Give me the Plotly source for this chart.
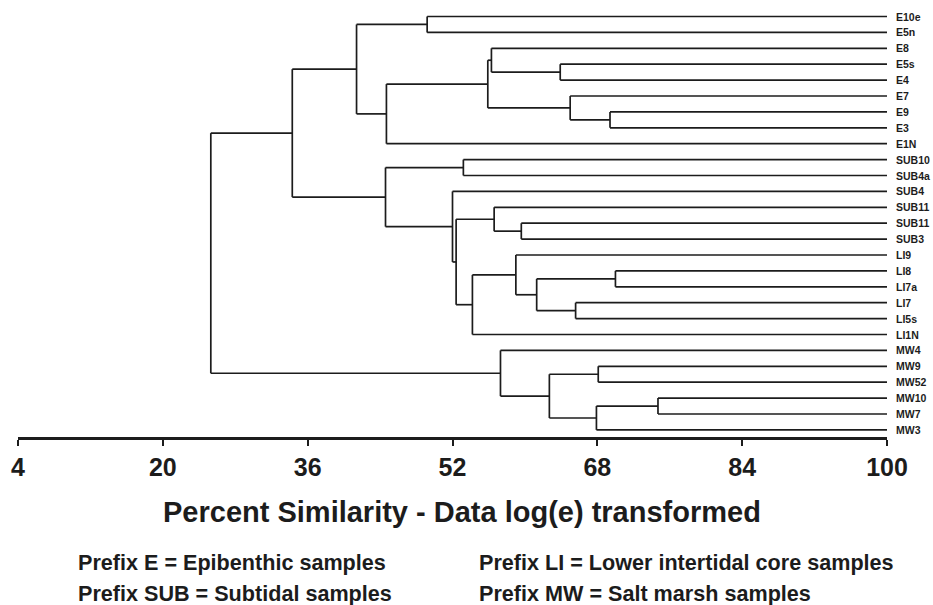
import plotly.graph_objects as go

# ---------------- data ----------------
leaves = ["E10e", "E5n", "E8", "E5s", "E4", "E7", "E9", "E3", "E1N",
          "SUB10", "SUB4a", "SUB4", "SUB11", "SUB11", "SUB3",
          "LI9", "LI8", "LI7a", "LI7", "LI5s", "LI1N",
          "MW4", "MW9", "MW52", "MW10", "MW7", "MW3"]

# merges: new node ids start at len(leaves) (=27) in this order
merge_left = [0, 3, 2, 6, 5, 29, 32, 27, 9, 13, 12, 16, 18, 38, 15, 41, 37, 11, 35, 34, 22, 24, 48, 47, 21, 46]
merge_right = [1, 4, 28, 7, 30, 31, 8, 33, 10, 14, 36, 17, 19, 39, 40, 20, 42, 43, 44, 45, 23, 25, 26, 49, 50, 51]
merge_sim = [49.2, 63.9, 56.3, 69.4, 65.0, 55.9, 44.7, 41.4, 53.2, 59.6, 56.6, 70.0, 65.6, 61.3, 59.0, 54.2,
             52.4, 52.0, 44.6, 34.3, 68.1, 74.7, 67.9, 62.7, 57.3, 25.3]

tick_vals = [4, 20, 36, 52, 68, 84, 100]
x_title = "Percent Similarity - Data log(e) transformed"
notes = ["Prefix E = Epibenthic samples", "Prefix SUB = Subtidal samples",
         "Prefix LI = Lower intertidal core samples", "Prefix MW = Salt marsh samples"]

# ---------------- build dendrogram ----------------
n = len(leaves)
node_y = {i: float(i) for i in range(n)}
node_x = {i: 100.0 for i in range(n)}
xs, ys = [], []
for k, (a, b, s) in enumerate(zip(merge_left, merge_right, merge_sim)):
    nid = n + k
    ya, yb = node_y[a], node_y[b]
    # horizontal arms
    xs += [node_x[a], s, None, node_x[b], s, None]
    ys += [ya, ya, None, yb, yb, None]
    # vertical connector
    xs += [s, s, None]
    ys += [ya, yb, None]
    node_y[nid] = (ya + yb) / 2
    node_x[nid] = s

FONT = "Liberation Sans, Arial, Helvetica, sans-serif"
INK = "#1c1c1c"

fig = go.Figure()
fig.add_trace(go.Scatter(x=xs, y=ys, mode="lines",
                         line=dict(color=INK, width=1.7),
                         hoverinfo="skip", showlegend=False))

annotations = []
for i, name in enumerate(leaves):
    annotations.append(dict(x=100, y=i, xref="x", yref="y", text=name,
                            showarrow=False, xanchor="left", yanchor="middle",
                            xshift=7, font=dict(family=FONT, size=10.5, color=INK, weight="bold")))

W, H = 933, 605
L, R_px, T, B_px = 18, 887, 0, 437
def px(xp):
    return (xp - L) / (R_px - L)
def py(yp):
    return (B_px - yp) / (B_px - T)

annotations.append(dict(x=px(462), y=py(512), xref="paper", yref="paper", text=x_title,
                        showarrow=False, xanchor="center", yanchor="middle",
                        font=dict(family=FONT, size=29, color=INK, weight="bold")))
note_pos = [(76, 562), (76, 593), (477, 562), (477, 593)]
for t, (xp, yp) in zip(notes, note_pos):
    annotations.append(dict(x=px(xp), y=py(yp), xref="paper", yref="paper", text=t,
                            showarrow=False, xanchor="left", yanchor="middle",
                            font=dict(family=FONT, size=21.6, color=INK, weight="bold")))

fig.update_layout(
    width=W, height=H,
    margin=dict(l=L, r=W - R_px, t=T, b=H - B_px, pad=0),
    paper_bgcolor="white", plot_bgcolor="white",
    showlegend=False,
    annotations=annotations,
    xaxis=dict(range=[4, 100], tickvals=tick_vals, ticktext=[str(v) for v in tick_vals],
               showgrid=False, zeroline=False, showline=True, linecolor=INK, linewidth=2.5,
               ticks="outside", ticklen=6, tickwidth=2, tickcolor=INK,
               tickfont=dict(family=FONT, size=25, color=INK, weight="bold"),
               fixedrange=True),
    yaxis=dict(range=[(B_px - 16.5) / 15.9, -16.5 / 15.9], visible=False,
               showgrid=False, zeroline=False, fixedrange=True),
)

fig.write_html("out.html")
